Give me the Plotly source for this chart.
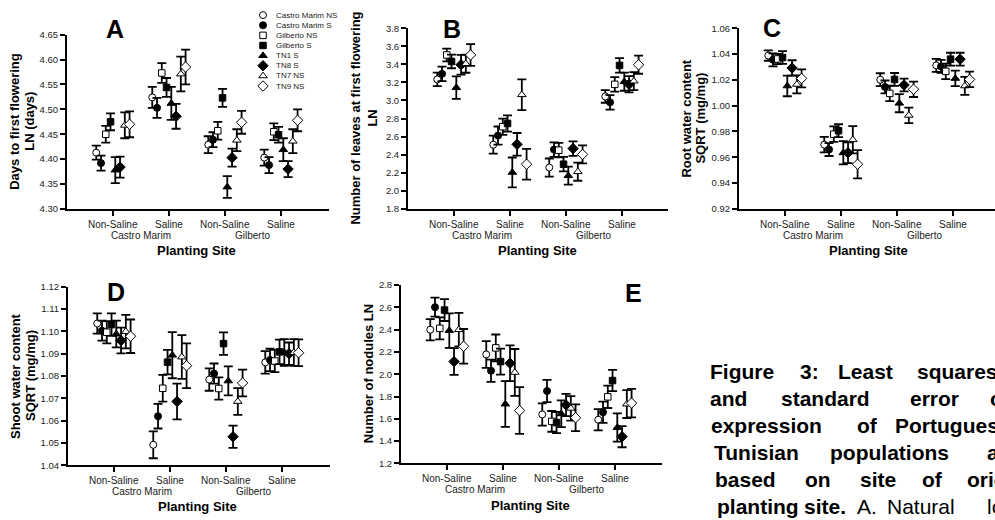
import plotly.graph_objects as go

# ---------------------------------------------------------------- data
series = ["Castro Marim NS", "Castro Marim S", "Gilberto NS", "Gilberto S",
          "TN1 S", "TN8 S", "TN7 NS", "TN9 NS"]
categories = ["Non-Saline", "Saline", "Non-Saline", "Saline"]
sites = ["Castro Marim", "Gilberto"]

# rows follow `series`, columns follow `categories`
days_flowering_mean = [
    [4.413, 4.524, 4.429, 4.403],
    [4.392, 4.503, 4.439, 4.388],
    [4.450, 4.573, 4.457, 4.455],
    [4.475, 4.544, 4.523, 4.449],
    [4.378, 4.512, 4.344, 4.419],
    [4.384, 4.486, 4.403, 4.380],
    [4.468, 4.571, 4.438, 4.436],
    [4.470, 4.585, 4.474, 4.478],
]
days_flowering_se = [
    [0.014, 0.021, 0.017, 0.016],
    [0.015, 0.020, 0.015, 0.016],
    [0.017, 0.020, 0.018, 0.017],
    [0.017, 0.019, 0.018, 0.016],
    [0.026, 0.033, 0.022, 0.023],
    [0.021, 0.025, 0.018, 0.016],
    [0.026, 0.035, 0.022, 0.024],
    [0.026, 0.035, 0.023, 0.022],
]

leaves_mean = [
    [3.233, 2.511, 2.258, 3.045],
    [3.295, 2.612, 2.457, 2.980],
    [3.504, 2.710, 2.450, 3.179],
    [3.432, 2.746, 2.295, 3.388],
    [3.143, 2.204, 2.168, 3.208],
    [3.396, 2.515, 2.468, 3.179],
    [3.407, 3.064, 2.212, 3.215],
    [3.504, 2.295, 2.403, 3.396],
]
leaves_se = [
    [0.075, 0.100, 0.100, 0.070],
    [0.080, 0.100, 0.080, 0.080],
    [0.070, 0.090, 0.080, 0.080],
    [0.075, 0.090, 0.080, 0.080],
    [0.125, 0.165, 0.100, 0.100],
    [0.110, 0.125, 0.080, 0.090],
    [0.100, 0.170, 0.100, 0.100],
    [0.120, 0.170, 0.100, 0.100],
]

root_water_mean = [
    [1.0388, 0.9698, 1.0201, 1.0312],
    [1.0355, 0.9660, 1.0145, 1.0304],
    [1.0362, 0.9779, 1.0095, 1.0266],
    [1.0373, 0.9806, 1.0203, 1.0360],
    [1.0153, 0.9635, 1.0019, 1.0211],
    [1.0292, 0.9635, 1.0160, 1.0360],
    [1.0165, 0.9736, 0.9925, 1.0153],
    [1.0211, 0.9546, 1.0127, 1.0203],
]
root_water_se = [
    [0.004, 0.006, 0.005, 0.005],
    [0.005, 0.005, 0.005, 0.005],
    [0.004, 0.006, 0.006, 0.006],
    [0.005, 0.005, 0.005, 0.005],
    [0.008, 0.009, 0.007, 0.006],
    [0.006, 0.008, 0.005, 0.005],
    [0.007, 0.0105, 0.006, 0.007],
    [0.007, 0.011, 0.006, 0.006],
]

shoot_water_mean = [
    [1.1035, 1.0492, 1.0784, 1.0861],
    [1.1003, 1.0620, 1.0811, 1.0872],
    [1.0996, 1.0745, 1.0744, 1.0867],
    [1.1030, 1.0862, 1.0945, 1.0908],
    [1.0988, 1.0893, 1.0778, 1.0905],
    [1.0959, 1.0686, 1.0528, 1.0900],
    [1.0999, 1.0885, 1.0686, 1.0905],
    [1.0978, 1.0846, 1.0769, 1.0904],
]
shoot_water_se = [
    [0.0045, 0.0060, 0.0050, 0.0050],
    [0.0045, 0.0055, 0.0045, 0.0050],
    [0.0050, 0.0060, 0.0050, 0.0050],
    [0.0050, 0.0055, 0.0050, 0.0055],
    [0.0060, 0.0103, 0.0065, 0.0060],
    [0.0058, 0.0080, 0.0050, 0.0050],
    [0.0075, 0.0098, 0.0060, 0.0060],
    [0.0075, 0.0100, 0.0060, 0.0060],
]

nodules_mean = [
    [2.399, 2.177, 1.639, 1.592],
    [2.601, 2.031, 1.849, 1.659],
    [2.411, 2.236, 1.577, 1.797],
    [2.575, 2.113, 1.566, 1.943],
    [2.391, 1.732, 1.645, 1.522],
    [2.113, 2.098, 1.724, 1.440],
    [2.399, 2.016, 1.694, 1.732],
    [2.250, 1.674, 1.610, 1.741],
]
nodules_se = [
    [0.095, 0.120, 0.100, 0.095],
    [0.085, 0.100, 0.100, 0.095],
    [0.098, 0.120, 0.093, 0.100],
    [0.098, 0.117, 0.095, 0.095],
    [0.155, 0.205, 0.120, 0.127],
    [0.120, 0.160, 0.100, 0.095],
    [0.150, 0.210, 0.110, 0.125],
    [0.155, 0.210, 0.120, 0.128],
]

# ---------------------------------------------------------------- styling
W, H = 995, 520
FONT = "Liberation Sans, Arial, Helvetica, sans-serif"
symbols = ["circle", "circle", "square", "square",
           "triangle-up", "diamond", "triangle-up", "diamond"]
filled = [False, True, False, True, True, True, False, False]
sizes = {"circle": 7, "square": 6.5, "triangle-up": 7.5, "diamond": 8}
GAP = 0.085          # horizontal spread between groups inside a category
X_LEFT = 0.18        # category value at the left end of each x axis
PX_PER_CAT = 56.0    # pixels between neighbouring categories


def fx(px):
    return px / W


def fy(py):
    return 1 - py / H


panels = [
    dict(letter="A", mean=days_flowering_mean, se=days_flowering_se,
         box=(67, 29.3, 329, 207.3), yr=(4.30, 4.65), dtick=0.05, fmt="%.2f",
         ytitle=["Days to first flowering", "LN (days)"], ytitle_x=[15, 30],
         letter_xy=(114.7, 24)),
    dict(letter="B", mean=leaves_mean, se=leaves_se,
         box=(408, 22.7, 668, 207.3), yr=(1.8, 3.8), dtick=0.2, fmt="%.1f",
         ytitle=["Number of leaves at first flowering", "LN"], ytitle_x=[356, 373],
         letter_xy=(451.7, 23)),
    dict(letter="C", mean=root_water_mean, se=root_water_se,
         box=(739, 22.7, 995, 207.3), yr=(0.92, 1.06), dtick=0.02, fmt="%.2f",
         ytitle=["Root water content", "SQRT (mg/mg)"], ytitle_x=[687, 701],
         letter_xy=(772, 22.5)),
    dict(letter="D", mean=shoot_water_mean, se=shoot_water_se,
         box=(68, 286.7, 330, 469.3), yr=(1.04, 1.12), dtick=0.01, fmt="%.2f",
         ytitle=["Shoot water content", "SQRT (mg/mg)"], ytitle_x=[15, 30],
         letter_xy=(115.5, 292)),
    dict(letter="E", mean=nodules_mean, se=nodules_se,
         box=(401, 285, 662, 467.3), yr=(1.2, 2.8), dtick=0.2, fmt="%.1f",
         ytitle=["Number of nodules LN"], ytitle_x=[368],
         letter_xy=(633.8, 293.3)),
]

fig = go.Figure()
axes = {}
annotations = []

for k, p in enumerate(panels):
    n = "" if k == 0 else str(k + 1)
    xa, ya = "x" + n, "y" + n
    x0, y0, x1, y1 = p["box"]
    lo, hi = p["yr"]
    nt = round((hi - lo) / p["dtick"])
    tv = [round(lo + i * p["dtick"], 4) for i in range(nt + 1)]

    axes["xaxis" + n] = dict(
        domain=[fx(x0), min(fx(x1), 1.0)],
        range=[X_LEFT, X_LEFT + (x1 - x0) / PX_PER_CAT],
        anchor=ya, showline=True, linecolor="black", linewidth=2,
        ticks="outside", ticklen=5, tickwidth=1.5, tickcolor="black",
        tickvals=[1, 2, 3, 4], showticklabels=False,
        showgrid=False, zeroline=False, fixedrange=True)
    axes["yaxis" + n] = dict(
        domain=[fy(y1), fy(y0)],
        range=[lo - 1e-9, hi + 1e-9],
        anchor=xa, showline=True, linecolor="black", linewidth=2,
        ticks="outside", ticklen=5, tickwidth=1.5, tickcolor="black",
        tickvals=tv, ticktext=[p["fmt"] % v for v in tv],
        tickfont=dict(family=FONT, size=9.5, color="#222"),
        showgrid=False, zeroline=False, fixedrange=True)

    for i, name in enumerate(series):
        xs = [c + 1 + (i - 3.5) * GAP for c in range(len(categories))]
        sym = symbols[i]
        fig.add_trace(go.Scatter(
            x=xs, y=p["mean"][i], name=name, mode="markers",
            error_y=dict(type="data", array=p["se"][i], color="black",
                         thickness=1.8, width=4.5),
            marker=dict(symbol=sym, size=sizes[sym],
                        color="black" if filled[i] else "white",
                        line=dict(color="black", width=1)),
            xaxis=xa, yaxis=ya, showlegend=False, cliponaxis=False))

    # category labels and site names under the x axis
    for c, lab in enumerate(categories):
        annotations.append(dict(
            x=c + 1, xref=xa, y=fy(y1 + 15.5), yref="paper", text=lab,
            showarrow=False, xanchor="center", yanchor="middle",
            font=dict(family=FONT, size=10, color="#222")))
    for s, site in enumerate(sites):
        annotations.append(dict(
            x=1.5 + 2 * s, xref=xa, y=fy(y1 + 27), yref="paper", text=site,
            showarrow=False, xanchor="center", yanchor="middle",
            font=dict(family=FONT, size=10, color="#222")))
    annotations.append(dict(
        x=2.5, xref=xa, y=fy(y1 + 42.5), yref="paper", text="<b>Planting Site</b>",
        showarrow=False, xanchor="center", yanchor="middle",
        font=dict(family=FONT, size=13, color="black")))

    # y axis title, one annotation per line
    yc = (y0 + y1) / 2
    for line, tx in zip(p["ytitle"], p["ytitle_x"]):
        annotations.append(dict(
            x=fx(tx), xref="paper", y=fy(yc), yref="paper",
            text="<b>%s</b>" % line, textangle=-90, showarrow=False,
            xanchor="center", yanchor="middle",
            font=dict(family=FONT, size=13, color="black")))

    # panel letter
    lx, ly = p["letter_xy"]
    annotations.append(dict(
        x=fx(lx), xref="paper", y=fy(ly), yref="paper",
        text="<b>%s</b>" % p["letter"], showarrow=False,
        xanchor="center", yanchor="middle",
        font=dict(family=FONT, size=25, color="black")))

# ---------------------------------------------------------------- key
row0, row_step = 9.3, 10.35
top_px, bot_px = 3, 88
axes["xaxis6"] = dict(domain=[fx(256), fx(270)], range=[-1, 1], anchor="y6",
                      visible=False, fixedrange=True)
axes["yaxis6"] = dict(domain=[fy(bot_px), fy(top_px)],
                      range=[(bot_px - row0) / row_step, (top_px - row0) / row_step],
                      anchor="x6", visible=False, fixedrange=True)
for i, name in enumerate(series):
    sym = symbols[i]
    fig.add_trace(go.Scatter(
        x=[0], y=[i], mode="markers", showlegend=False, cliponaxis=False,
        marker=dict(symbol=sym, size=sizes[sym],
                    color="black" if filled[i] else "white",
                    line=dict(color="black", width=1)),
        xaxis="x6", yaxis="y6"))
    annotations.append(dict(
        x=fx(274), xref="paper", y=i, yref="y6", text=name, showarrow=False,
        xanchor="left", yanchor="middle",
        font=dict(family=FONT, size=8, color="#222")))

# ---------------------------------------------------------------- caption
CAP_SIZE = 21
caption = [
    [("<b>Figure</b>", 708), ("<b>3:</b>", 798), ("<b>Least</b>", 836),
     ("<b>squares</b>", 915)],
    [("<b>and</b>", 708), ("<b>standard</b>", 779), ("<b>error</b>", 908),
     ("<b>of</b>", 988)],
    [("<b>expression</b>", 709), ("<b>of</b>", 855), ("<b>Portuguese</b>", 893)],
    [("<b>Tunisian</b>", 712), ("<b>populations</b>", 828), ("<b>and</b>", 985)],
    [("<b>based</b>", 713), ("<b>on</b>", 803), ("<b>site</b>", 858),
     ("<b>of</b>", 920), ("<b>origin</b>", 965)],
    [("<b>planting</b>", 715), ("<b>site.</b>", 802), ("A.", 855),
     ("Natural", 885), ("log", 985)],
]
line_y = [373, 400.6, 428.2, 455.8, 483.4, 511]
for words, ly in zip(caption, line_y):
    for word, wx in words:
        annotations.append(dict(
            x=fx(wx), xref="paper", y=fy(ly), yref="paper", text=word,
            showarrow=False, xanchor="left", yanchor="middle",
            font=dict(family=FONT, size=CAP_SIZE, color="black")))

fig.update_layout(
    width=W, height=H, margin=dict(l=0, r=0, t=0, b=0),
    paper_bgcolor="white", plot_bgcolor="rgba(0,0,0,0)",
    showlegend=False, annotations=annotations,
    font=dict(family=FONT), **axes)

fig.write_html("out.html")
